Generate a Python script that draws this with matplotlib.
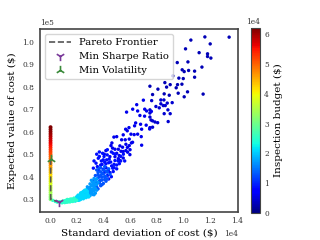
import numpy as np
import matplotlib.pyplot as plt

plt.rcParams['font.family'] = 'DejaVu Serif'

# portfolio cloud, x in 1e4 $, y in 1e5 $, grouped by inspection budget (1e4 $)
top_pts = [(1.161, 1.021), (1.343, 1.020), (1.056, 1.007), (1.201, 0.990), (1.016, 0.968),
           (1.118, 0.951), (1.181, 0.946), (1.181, 0.934), (1.206, 0.927), (1.034, 0.910),
           (0.954, 0.907), (1.139, 0.887), (0.991, 0.875), (1.006, 0.867), (1.039, 0.872),
           (1.084, 0.869), (1.084, 0.842), (0.966, 0.838), (0.999, 0.836), (0.921, 0.848),
           (0.861, 0.818), (0.901, 0.809), (0.956, 0.809), (0.989, 0.811), (0.874, 0.798),
           (0.946, 0.795), (0.809, 0.789), (0.749, 0.802), (1.031, 0.777), (0.961, 0.771),
           (1.148, 0.767), (0.856, 0.768), (0.894, 0.762), (0.769, 0.765), (1.006, 0.755)]
top_budget = 0.3

upper_pts = [(0.831, 0.741), (0.854, 0.741), (0.762, 0.738), (0.916, 0.729), (0.879, 0.727),
             (0.831, 0.724), (0.849, 0.716), (0.864, 0.716), (0.794, 0.712), (0.819, 0.706),
             (0.884, 0.697), (0.749, 0.697), (0.749, 0.683), (0.749, 0.665), (0.856, 0.680),
             (0.901, 0.680), (0.757, 0.652), (0.769, 0.648), (0.787, 0.643), (0.807, 0.640),
             (0.886, 0.645), (0.769, 0.620), (0.749, 0.618)]
upper_budget = 0.45

mid_pts = [(0.574, 0.687), (0.657, 0.692), (0.674, 0.672), (0.709, 0.669), (0.724, 0.692),
           (0.642, 0.639), (0.592, 0.618), (0.567, 0.611), (0.579, 0.604), (0.634, 0.626),
           (0.679, 0.633), (0.721, 0.629), (0.747, 0.612), (0.687, 0.611), (0.607, 0.589),
           (0.631, 0.587), (0.657, 0.589), (0.549, 0.586), (0.684, 0.578), (0.479, 0.576),
           (0.500, 0.578), (0.537, 0.564), (0.564, 0.564), (0.594, 0.567), (0.619, 0.553),
           (0.464, 0.550), (0.457, 0.538), (0.569, 0.544), (0.594, 0.538), (0.687, 0.540),
           (0.524, 0.537), (0.544, 0.531), (0.469, 0.527), (0.487, 0.522), (0.512, 0.522),
           (0.532, 0.513), (0.549, 0.512), (0.569, 0.516), (0.582, 0.509), (0.599, 0.498),
           (0.419, 0.516), (0.407, 0.500), (0.500, 0.504), (0.519, 0.494), (0.449, 0.489),
           (0.487, 0.489), (0.512, 0.480), (0.549, 0.483), (0.524, 0.472), (0.700, 0.740),
           (0.650, 0.720), (0.620, 0.700), (0.710, 0.700), (0.760, 0.690), (0.580, 0.530),
           (0.610, 0.550), (0.600, 0.520)]
mid_budget = 0.6

blue_pts = [(0.394, 0.504), (0.429, 0.497), (0.474, 0.504), (0.362, 0.482), (0.399, 0.475),
            (0.444, 0.478), (0.487, 0.472), (0.345, 0.460), (0.380, 0.452), (0.419, 0.457),
            (0.462, 0.448), (0.500, 0.452), (0.325, 0.438), (0.362, 0.430), (0.399, 0.433),
            (0.437, 0.427), (0.474, 0.423), (0.430, 0.405), (0.450, 0.418), (0.470, 0.438),
            (0.410, 0.465), (0.440, 0.462), (0.390, 0.455), (0.420, 0.440), (0.480, 0.455),
            (0.520, 0.458), (0.500, 0.435), (0.350, 0.500), (0.370, 0.510), (0.330, 0.470),
            (0.460, 0.400), (0.440, 0.390), (0.410, 0.420), (0.385, 0.470), (0.355, 0.445),
            (0.530, 0.470), (0.455, 0.465), (0.425, 0.475), (0.405, 0.490), (0.370, 0.490),
            (0.480, 0.440), (0.510, 0.470), (0.550, 0.500), (0.560, 0.470), (0.530, 0.490),
            (0.460, 0.510), (0.430, 0.520), (0.490, 0.500)]
blue_budget = 0.85

light_pts = [(0.35, 0.355), (0.36, 0.346), (0.37, 0.372), (0.38, 0.360), (0.39, 0.385),
             (0.40, 0.370), (0.36, 0.395), (0.38, 0.405), (0.40, 0.412), (0.37, 0.380),
             (0.39, 0.398), (0.41, 0.388), (0.35, 0.375), (0.38, 0.422), (0.42, 0.402),
             (0.36, 0.410), (0.40, 0.430), (0.34, 0.405), (0.37, 0.438), (0.41, 0.445),
             (0.33, 0.385), (0.34, 0.360), (0.43, 0.420), (0.39, 0.365), (0.38, 0.440),
             (0.42, 0.425), (0.44, 0.435), (0.36, 0.420), (0.39, 0.415), (0.41, 0.400),
             (0.43, 0.390), (0.37, 0.400), (0.35, 0.430), (0.42, 0.380), (0.45, 0.410),
             (0.38, 0.385)]
light_budget = 1.3

sky_pts = [(0.28, 0.312), (0.29, 0.322), (0.30, 0.316), (0.31, 0.330), (0.32, 0.321),
           (0.33, 0.338), (0.34, 0.327), (0.28, 0.345), (0.30, 0.352), (0.32, 0.360),
           (0.34, 0.348), (0.29, 0.337), (0.31, 0.343), (0.33, 0.355), (0.30, 0.368),
           (0.32, 0.375), (0.34, 0.366), (0.31, 0.384), (0.33, 0.392), (0.35, 0.340),
           (0.27, 0.330), (0.26, 0.325), (0.29, 0.350), (0.31, 0.362), (0.33, 0.370),
           (0.35, 0.365), (0.32, 0.335), (0.30, 0.330), (0.28, 0.355), (0.34, 0.382),
           (0.36, 0.375), (0.32, 0.345), (0.30, 0.340), (0.35, 0.390), (0.33, 0.320)]
sky_budget = 1.7

cyan_pts = [(0.19, 0.292), (0.20, 0.300), (0.21, 0.295), (0.22, 0.306), (0.23, 0.299),
            (0.24, 0.312), (0.25, 0.302), (0.26, 0.317), (0.27, 0.307), (0.20, 0.311),
            (0.22, 0.318), (0.24, 0.325), (0.26, 0.333), (0.21, 0.304), (0.23, 0.310),
            (0.25, 0.322), (0.27, 0.341), (0.19, 0.303), (0.24, 0.330), (0.26, 0.312),
            (0.28, 0.325), (0.22, 0.296), (0.21, 0.318), (0.23, 0.322), (0.25, 0.315),
            (0.27, 0.320), (0.29, 0.315), (0.22, 0.312), (0.24, 0.305), (0.26, 0.340),
            (0.28, 0.335), (0.23, 0.328), (0.25, 0.335), (0.20, 0.305), (0.21, 0.299),
            (0.29, 0.310)]
cyan_budget = 2.1

teal_pts = [(0.08, 0.286), (0.09, 0.284), (0.10, 0.288), (0.11, 0.285), (0.12, 0.290),
            (0.13, 0.287), (0.14, 0.292), (0.15, 0.288), (0.16, 0.294), (0.17, 0.290),
            (0.18, 0.297), (0.10, 0.292), (0.12, 0.295), (0.14, 0.298), (0.16, 0.301),
            (0.18, 0.305), (0.07, 0.289), (0.13, 0.299), (0.15, 0.296), (0.17, 0.300),
            (0.02, 0.295), (0.04, 0.290), (0.055, 0.287), (0.09, 0.290), (0.11, 0.293),
            (0.13, 0.294), (0.15, 0.300), (0.17, 0.295), (0.19, 0.298), (0.12, 0.287),
            (0.14, 0.289), (0.16, 0.291), (0.18, 0.293), (0.20, 0.295)]
teal_budget = 2.5

# high-budget portfolios sitting on zero deviation
edge_y = [0.30, 0.31, 0.32, 0.33, 0.34, 0.35, 0.36, 0.37, 0.38, 0.39, 0.40, 0.41, 0.42,
          0.43, 0.44, 0.45, 0.46, 0.47, 0.48, 0.49, 0.50, 0.51, 0.52, 0.53, 0.54, 0.55,
          0.56, 0.57, 0.58, 0.59, 0.60, 0.61, 0.62]
edge_budget = [3.1, 3.2, 3.3, 3.4, 3.5, 3.6, 3.7, 3.8, 3.9, 4.0, 4.1, 4.2, 4.3, 4.4, 4.5,
               4.6, 4.7, 4.8, 4.9, 5.0, 5.1, 5.2, 5.3, 5.4, 5.5, 5.6, 5.7, 5.8, 5.9, 6.0,
               6.1, 6.15, 6.2]
edge_x = 0.004

frontier_x = [0.005, 0.005, 0.067]
frontier_y = [0.48, 0.30, 0.287]
min_sharpe = (0.067, 0.287)
min_vol = (0.005, 0.478)

groups = [(top_pts, top_budget), (upper_pts, upper_budget), (mid_pts, mid_budget),
          (blue_pts, blue_budget), (light_pts, light_budget), (sky_pts, sky_budget),
          (cyan_pts, cyan_budget), (teal_pts, teal_budget)]
xs, ys, cs = [], [], []
for pts, b in groups:
    for px, py in pts:
        xs.append(px)
        ys.append(py)
        cs.append(b)
xs = np.array(xs) * 1e4
ys = np.array(ys) * 1e5
cs = np.array(cs) * 1e4

fig = plt.figure(figsize=(3.2, 2.4), dpi=100)
ax = fig.add_axes([0.125, 0.117, 0.619, 0.762])
cax = fig.add_axes([0.784, 0.1125, 0.028, 0.77])

sc = ax.scatter(xs, ys, c=cs, cmap='jet', vmin=0, vmax=6.2e4, s=6, linewidths=0)
ax.scatter(np.full(len(edge_y), edge_x) * 1e4, np.array(edge_y) * 1e5,
           c=np.array(edge_budget) * 1e4, cmap='jet', vmin=0, vmax=6.2e4, s=8, linewidths=0)

ax.plot(np.array(frontier_x) * 1e4, np.array(frontier_y) * 1e5, '--', color='#555555',
        lw=1.2, label='Pareto Frontier')
ax.scatter(min_sharpe[0] * 1e4, min_sharpe[1] * 1e5, marker='1', color='#7a3a9a', s=45,
           linewidths=1.2, label='Min Sharpe Ratio', zorder=5)
ax.scatter(min_vol[0] * 1e4, min_vol[1] * 1e5, marker='2', color='#3a8a3a', s=45,
           linewidths=1.2, label='Min Volatility', zorder=5)

ax.set_xlim(-0.075e4, 1.41e4)
ax.set_ylim(0.2436e5, 1.056e5)
ax.set_xticks(np.arange(0, 1.41e4, 0.2e4))
ax.set_yticks(np.arange(0.3e5, 1.01e5, 0.1e5))
ax.ticklabel_format(style='sci', axis='both', scilimits=(0, 0))
ax.tick_params(labelsize=5.3, length=0, pad=4, labelcolor='#333333')
ax.xaxis.get_offset_text().set_fontsize(5.3)
ax.yaxis.get_offset_text().set_fontsize(5.3)
for sp in ax.spines.values():
    sp.set_color('#444444')
    sp.set_linewidth(1.2)

ax.set_xlabel('Standard deviation of cost ($)', fontsize=7.5, labelpad=2)
ax.set_ylabel('Expected value of cost ($)', fontsize=7.5, labelpad=4)
ax.legend(loc='upper left', fontsize=7.2, edgecolor='#cccccc', handlelength=2.2)

cb = fig.colorbar(sc, cax=cax)
cb.set_ticks(np.arange(0, 6.1e4, 1e4))
cb.formatter.set_powerlimits((0, 0))
cb.update_ticks()
cb.ax.tick_params(labelsize=5.3, length=0, pad=3, labelcolor='#333333')
cb.ax.yaxis.get_offset_text().set_fontsize(5.3)
cb.outline.set_edgecolor('#444444')
cb.set_label('Inspection budget ($)', fontsize=7.5)

fig.savefig('out.png', dpi=100)
